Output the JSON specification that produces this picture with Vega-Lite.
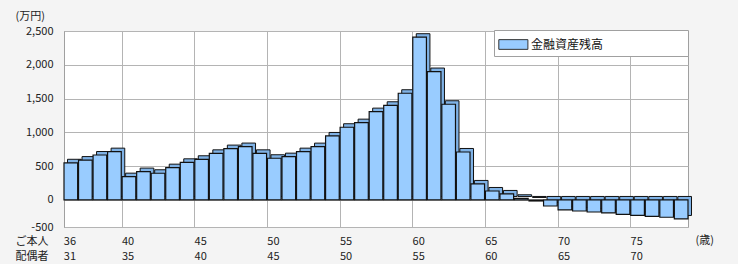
{
  "$schema": "https://vega.github.io/schema/vega-lite/v6.json",
  "autosize": "none",
  "width": 624,
  "height": 196,
  "padding": {"left": 64, "top": 31, "right": 50, "bottom": 37},
  "background": "#f4f4f4",
  "title": {"text": "(歳)", "orient": "right", "anchor": "end", "angle": 0, "align": "left", "baseline": "middle", "offset": -15, "dy": 14, "font": "Noto Sans CJK JP", "fontSize": 11, "fontWeight": "normal", "color": "#222", "frame": "group"},
  "config": {
    "view": {"fill": "white", "stroke": "#a0a0a0"},
    "font": "Noto Sans CJK JP"
  },
  "data": {"values": [
    {"age": 36, "value": 550, "series": "金融資産残高"},
    {"age": 37, "value": 590, "series": "金融資産残高"},
    {"age": 38, "value": 665, "series": "金融資産残高"},
    {"age": 39, "value": 715, "series": "金融資産残高"},
    {"age": 40, "value": 345, "series": "金融資産残高"},
    {"age": 41, "value": 420, "series": "金融資産残高"},
    {"age": 42, "value": 395, "series": "金融資産残高"},
    {"age": 43, "value": 478, "series": "金融資産残高"},
    {"age": 44, "value": 557, "series": "金融資産残高"},
    {"age": 45, "value": 602, "series": "金融資産残高"},
    {"age": 46, "value": 690, "series": "金融資産残高"},
    {"age": 47, "value": 760, "series": "金融資産残高"},
    {"age": 48, "value": 790, "series": "金融資産残高"},
    {"age": 49, "value": 690, "series": "金融資産残高"},
    {"age": 50, "value": 617, "series": "金融資産残高"},
    {"age": 51, "value": 641, "series": "金融資産残高"},
    {"age": 52, "value": 715, "series": "金融資産残高"},
    {"age": 53, "value": 789, "series": "金融資産残高"},
    {"age": 54, "value": 947, "series": "金融資産残高"},
    {"age": 55, "value": 1076, "series": "金融資産残高"},
    {"age": 56, "value": 1144, "series": "金融資産残高"},
    {"age": 57, "value": 1307, "series": "金融資産残高"},
    {"age": 58, "value": 1401, "series": "金融資産残高"},
    {"age": 59, "value": 1579, "series": "金融資産残高"},
    {"age": 60, "value": 2408, "series": "金融資産残高"},
    {"age": 61, "value": 1900, "series": "金融資産残高"},
    {"age": 62, "value": 1416, "series": "金融資産残高"},
    {"age": 63, "value": 710, "series": "金融資産残高"},
    {"age": 64, "value": 237, "series": "金融資産残高"},
    {"age": 65, "value": 133, "series": "金融資産残高"},
    {"age": 66, "value": 89, "series": "金融資産残高"},
    {"age": 67, "value": 25, "series": "金融資産残高"},
    {"age": 68, "value": -15, "series": "金融資産残高"},
    {"age": 69, "value": -89, "series": "金融資産残高"},
    {"age": 70, "value": -148, "series": "金融資産残高"},
    {"age": 71, "value": -163, "series": "金融資産残高"},
    {"age": 72, "value": -178, "series": "金融資産残高"},
    {"age": 73, "value": -192, "series": "金融資産残高"},
    {"age": 74, "value": -212, "series": "金融資産残高"},
    {"age": 75, "value": -227, "series": "金融資産残高"},
    {"age": 76, "value": -242, "series": "金融資産残高"},
    {"age": 77, "value": -256, "series": "金融資産残高"},
    {"age": 78, "value": -281, "series": "金融資産残高"}
  ]},
  "encoding": {
    "x": {
      "field": "age", "type": "ordinal",
      "scale": {"paddingInner": 0.06, "paddingOuter": 0},
      "axis": {
        "values": [36, 40, 45, 50, 55, 60, 65, 70, 75],
        "bandPosition": 0,
        "labelAngle": 0,
        "labelAlign": "left",
        "labelBaseline": "top",
        "labelOffset": -7,
        "labelPadding": 8,
        "labelLineHeight": 15,
        "labelFontSize": 11,
        "labelColor": "#222",
        "labelExpr": "[datum.label, toString(+datum.value - 5)]",
        "ticks": false,
        "domain": false,
        "grid": true,
        "gridColor": "#b4b4b4",
        "title": ["ご本人", "配偶者"],
        "titleAlign": "left",
        "titleBaseline": "top",
        "titleAngle": 0,
        "titleX": -49,
        "titleY": 8,
        "titleLineHeight": 15,
        "titleFontSize": 11,
        "titleFontWeight": "normal",
        "titleColor": "#222"
      }
    },
    "y": {
      "field": "value", "type": "quantitative",
      "scale": {"domain": [-400, 2500], "nice": false},
      "axis": {
        "values": [-400, 0, 500, 1000, 1500, 2000, 2500],
        "labelExpr": "datum.value == -400 ? '-500' : replace(format(datum.value, ','), '−', '-')",
        "labelFontSize": 11,
        "labelColor": "#222",
        "labelPadding": 11,
        "ticks": false,
        "domainColor": "#a0a0a0",
        "gridColor": "#b4b4b4",
        "title": "(万円)",
        "titleAngle": 0,
        "titleAlign": "left",
        "titleBaseline": "middle",
        "titleX": -49,
        "titleY": -15,
        "titleFontSize": 11,
        "titleFontWeight": "normal",
        "titleColor": "#222"
      }
    }
  },
  "layer": [
    {
      "mark": {"type": "bar", "fill": "#7fb2e6", "stroke": "#111", "strokeWidth": 1, "xOffset": 3.5, "yOffset": -3.5}
    },
    {
      "mark": {"type": "bar", "stroke": "#111", "strokeWidth": 1.2},
      "encoding": {
        "color": {
          "field": "series", "type": "nominal",
          "scale": {"range": ["#99ccff"]},
          "legend": {
            "orient": "none",
            "legendX": 430,
            "legendY": -1,
            "title": null,
            "symbolType": "M-1,-0.5H2V0.5H-1Z",
            "symbolSize": 376,
            "symbolStrokeColor": "#333",
            "symbolStrokeWidth": 1,
            "symbolOpacity": 1,
            "labelOffset": 12,
            "labelFontSize": 12,
            "labelColor": "#111",
            "labelExpr": "datum.label + '\u3000\u3000\u3000\u3000\u3000\u3000\u00a0\u00a0\u00a0\u200b'",
            "strokeColor": "#a0a0a0",
            "fillColor": "white",
            "padding": 4
          }
        }
      }
    }
  ]
}
